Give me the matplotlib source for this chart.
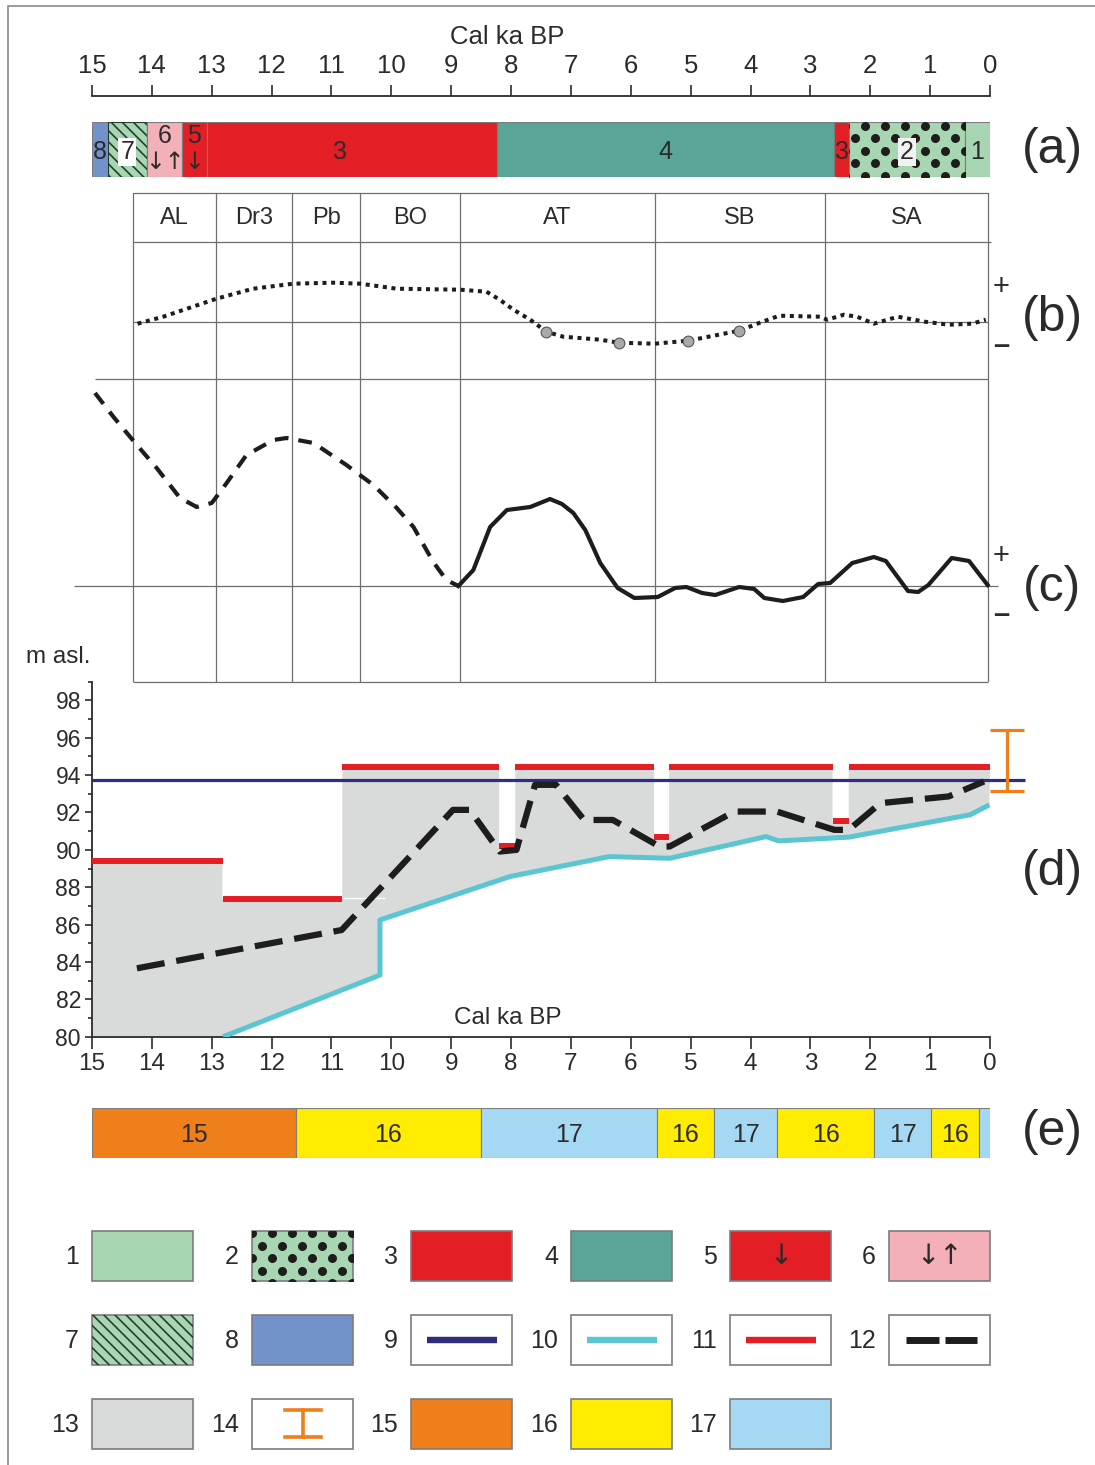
import matplotlib
matplotlib.use("Agg")
import matplotlib.pyplot as plt
from matplotlib.patches import Rectangle
import numpy as np

W, H = 1095, 1465
XL, XR = 92, 990          # pixel span of the 15 -> 0 ka time axes

plt.rcParams["font.family"] = ["Liberation Sans", "DejaVu Sans"]
plt.rcParams["hatch.linewidth"] = 1.2

TXT = "#2b2b2b"
GRID = "#6e6e6e"
EDGE = "#7d7d7d"
MEADOW = "#a8d5b2"
RED = "#e31e24"
TEAL = "#5aa595"
PINK = "#f4b0b8"
BLUE8 = "#7392c9"
NAVY = "#2e2d82"
CYAN = "#5bc5d2"
GREY = "#d9dada"
ORANGE = "#ee7f1b"
YELLOW = "#ffec00"
SKY = "#a4d8f3"
DARK = "#1d1d1b"
ARROWS = ["DejaVu Sans"]

unit_color = {1: MEADOW, 2: MEADOW, 3: RED, 4: TEAL, 5: RED, 6: PINK,
              7: MEADOW, 8: BLUE8, 13: GREY, 15: ORANGE, 16: YELLOW, 17: SKY}

# (a) sediment units along the time axis, oldest first
a_edges = [15.0, 14.74, 14.08, 13.50, 13.08, 8.24, 2.60, 2.35, 0.42, 0.0]
a_units = [8, 7, 6, 5, 3, 4, 3, 2, 1]

# chronozones and their limits (ka)
zone_edges = [14.32, 12.93, 11.66, 10.52, 8.85, 5.60, 2.76, 0.03]
zone_names = ["AL", "Dr3", "Pb", "BO", "AT", "SB", "SA"]

# (b) humidity curve, relative units
b_ka = [14.24, 13.81, 12.92, 12.31, 11.64, 10.97, 10.52, 9.91, 8.85, 8.41,
        8.19, 7.96, 7.68, 7.41, 7.13, 6.51, 6.20, 5.60, 5.04, 4.19, 3.80,
        3.52, 2.84, 2.72, 2.44, 2.22, 1.94, 1.54, 1.09, 0.69, 0.30, 0.07]
b_val = [-0.2, 0.5, 2.3, 3.3, 3.8, 3.9, 3.8, 3.3, 3.2, 3.0,
         2.2, 1.2, 0.2, -1.0, -1.5, -1.8, -2.1, -2.2, -1.9, -0.9, 0.0,
         0.6, 0.5, 0.2, 0.7, 0.5, -0.2, 0.5, 0.0, -0.3, -0.2, 0.2]
b_dot_ka = [7.41, 6.20, 5.04, 4.19]
b_dot_val = [-1.0, -2.1, -1.9, -0.9]

# (c) temperature curve, relative units: inferred part, then measured part
c_dash_ka = [14.95, 14.64, 14.25, 13.92, 13.53, 13.25, 13.00, 12.81, 12.42,
             11.97, 11.75, 11.30, 10.75, 10.30, 9.91, 9.63, 9.30, 9.08, 8.88]
c_dash_val = [19.3, 16.9, 14.1, 11.8, 8.8, 7.9, 8.3, 9.8, 13.1,
              14.6, 14.8, 14.3, 12.1, 10.1, 7.8, 5.9, 2.4, 0.6, 0.0]
c_solid_ka = [8.88, 8.63, 8.35, 8.07, 7.68, 7.35, 7.15, 6.96, 6.76, 6.51,
              6.22, 5.94, 5.55, 5.26, 5.07, 4.81, 4.59, 4.19, 3.94, 3.77,
              3.46, 3.12, 2.87, 2.67, 2.30, 1.94, 1.74, 1.37, 1.20, 1.03,
              0.64, 0.35, 0.04]
c_solid_val = [0.0, 1.6, 5.9, 7.6, 7.9, 8.7, 8.2, 7.3, 5.6, 2.3,
               -0.2, -1.2, -1.1, -0.2, -0.1, -0.7, -0.9, -0.1, -0.3, -1.2,
               -1.5, -1.1, 0.2, 0.3, 2.3, 2.9, 2.5, -0.5, -0.6, 0.1,
               2.8, 2.5, 0.1]

# (d) lake levels, m asl.
hs_from = [15.0, 12.82, 10.82, 8.20, 7.93, 5.61, 5.36, 2.63, 2.36]
hs_to = [12.82, 10.82, 8.20, 7.93, 5.61, 5.36, 2.63, 2.36, 0.0]
hs_level = [89.4, 87.36, 94.46, 90.23, 94.46, 90.68, 94.46, 91.52, 94.46]
lake_ka = [14.25, 10.83, 8.97, 8.69, 8.19, 7.91, 7.60, 7.25, 6.78, 6.30,
           5.52, 5.35, 4.27, 3.56, 2.60, 2.36, 1.83, 0.69, 0.10]
lake_m = [83.66, 85.71, 92.14, 92.14, 89.91, 90.0, 93.48, 93.48, 91.6, 91.6,
          90.18, 90.18, 92.05, 92.05, 91.07, 91.07, 92.5, 92.86, 93.66]
base_ka = [12.81, 10.19, 10.19, 8.02, 6.36, 5.35, 3.74, 3.53, 2.36, 0.33, 0.01]
base_m = [80.0, 83.3, 86.25, 88.57, 89.64, 89.55, 90.71, 90.48, 90.68, 91.88, 92.41]
threshold_m = 93.75
modern_ka = -0.29
modern_lo, modern_hi = 93.13, 96.43

# (e) climate phases
e_edges = [15.0, 11.6, 8.5, 5.57, 4.61, 3.55, 1.94, 0.98, 0.18, 0.0]
e_class = [15, 16, 17, 16, 17, 16, 17, 16, 17]

ticks = list(range(15, -1, -1))

fig = plt.figure(figsize=(W / 100, H / 100), dpi=100)


def px_axes(x0, y0, x1, y1):
    return fig.add_axes([x0 / W, 1 - y1 / H, (x1 - x0) / W, (y1 - y0) / H])


def dot_fill(ax, patch, x0, x1, y0, y1, dx, dy, size):
    pts = []
    for k, yy in enumerate(np.arange(y0, y1 + dy, dy)):
        shift = dx / 2 if k % 2 else 0.0
        for xx in np.arange(x0 - shift, x1 + dx, dx):
            pts.append((xx, yy))
    pts = np.array(pts)
    sc = ax.scatter(pts[:, 0], pts[:, 1], s=size, color=DARK, lw=0, zorder=3)
    sc.set_clip_path(patch)


# overlay in pixel units for frame, labels and the legend
ov = fig.add_axes([0, 0, 1, 1])
ov.set_xlim(0, W)
ov.set_ylim(H, 0)
ov.axis("off")
ov.plot([8, 8, W + 5], [H + 5, 6, 6], color="#8a8a8a", lw=1.2, clip_on=False)

# ---- time scale on top
ax_s = px_axes(XL, 96, XR, 97)
ax_s.set_xlim(15, 0)
ax_s.set_ylim(0, 1)
for side in ("left", "right", "bottom"):
    ax_s.spines[side].set_visible(False)
ax_s.spines["top"].set_color(TXT)
ax_s.spines["top"].set_linewidth(1.3)
ax_s.set_yticks([])
ax_s.set_xticks(ticks)
ax_s.tick_params(axis="x", top=True, bottom=False, labeltop=True, labelbottom=False,
                 direction="out", length=8, width=1.2, color=TXT,
                 labelsize=18.5, labelcolor=TXT, pad=5)
ax_s.patch.set_visible(False)
ov.text(507, 37, "Cal ka BP", ha="center", va="center", fontsize=18.5, color=TXT)

# ---- (a) units
ax_a = px_axes(XL, 122, XR, 177)
ax_a.set_xlim(15, 0)
ax_a.set_ylim(0, 1)
ax_a.axis("off")
older = np.array(a_edges[:-1])
younger = np.array(a_edges[1:])
bars = ax_a.barh(0.5, older - younger, left=younger, height=1,
                 color=[unit_color[u] for u in a_units], edgecolor=EDGE, linewidth=0.8)
for i, u in enumerate(a_units):
    mid = (older[i] + younger[i]) / 2
    if u == 7:
        bars[i].set_hatch("\\\\\\")
        bars[i].set_edgecolor("#24402c")
        ax_a.text(mid, 0.45, "7", ha="center", va="center", fontsize=18, color=TXT,
                  bbox=dict(fc="white", ec="none", pad=1.5), zorder=4)
    elif u == 2:
        dot_fill(ax_a, bars[i], younger[i], older[i], 0.02, 1.0, 0.334, 0.227, 42)
        ax_a.text(mid, 0.45, "2", ha="center", va="center", fontsize=18, color=TXT,
                  bbox=dict(fc="#f2f2f2", ec="none", pad=1.5), zorder=4)
    elif u in (5, 6):
        ax_a.text(mid, 0.75, str(u), ha="center", va="center", fontsize=18, color=TXT)
        ax_a.text(mid, 0.27, "↓" if u == 5 else "↓↑", ha="center", va="center",
                  fontsize=17, color=TXT, family=ARROWS)
    elif u == 3 and older[i] - younger[i] > 1:
        ax_a.text(mid + 0.2, 0.45, "3", ha="center", va="center", fontsize=18, color=TXT)
    else:
        ax_a.text(mid, 0.45, str(u), ha="center", va="center", fontsize=18, color=TXT)

# ---- chronozone header, (b) and (c)
ax_h = px_axes(XL, 193, XR, 242)
ax_b = px_axes(XL, 242, XR, 379)
ax_c = px_axes(XL, 379, XR, 682)
ax_h.set_ylim(0, 1)
ax_b.set_ylim(-5.73, 7.97)
ax_c.set_ylim(-9.6, 20.7)
for ax in (ax_h, ax_b, ax_c):
    ax.set_xlim(15, 0)
    ax.axis("off")
    for e in zone_edges:
        ax.axvline(e, color=GRID, lw=0.9)

ax_h.hlines(1, zone_edges[0], zone_edges[-1], color=GRID, lw=0.9, clip_on=False)
ax_h.hlines(0, zone_edges[0], -0.01, color=GRID, lw=0.9, clip_on=False)
for k, name in enumerate(zone_names):
    ax_h.text((zone_edges[k] + zone_edges[k + 1]) / 2, 0.5, name, ha="center",
              va="center", fontsize=17, color=TXT)

ax_b.hlines(0, zone_edges[0], zone_edges[-1], color=GRID, lw=0.9)
ax_b.plot(b_ka, b_val, color=DARK, lw=2.9, linestyle=(0, (1.0, 1.15)),
          dash_capstyle="butt", zorder=3)
ax_b.scatter(b_dot_ka, b_dot_val, s=60, color="#a9a9a9", edgecolor="#555555",
             lw=0.8, zorder=4)

ax_c.hlines(20.7, 14.95, zone_edges[-1], color=GRID, lw=0.9, clip_on=False)
ax_c.hlines(-9.6, zone_edges[0], zone_edges[-1], color=GRID, lw=0.9, clip_on=False)
ax_c.hlines(0, 15.3, -0.13, color=GRID, lw=0.9, clip_on=False)
ax_c.plot(c_dash_ka, c_dash_val, color=DARK, lw=3, linestyle=(0, (3.3, 2.4)),
          clip_on=False, zorder=3)
ax_c.plot(c_solid_ka, c_solid_val, color=DARK, lw=3, solid_joinstyle="round",
          clip_on=False, zorder=3)

# ---- (d) lake levels
ax_d = px_axes(XL, 681.7, XR, 1036.7)
ax_d.set_xlim(15, 0)
ax_d.set_ylim(80, 99.0)
ax_d.patch.set_visible(False)
for side in ("top", "right"):
    ax_d.spines[side].set_visible(False)
for side in ("left", "bottom"):
    ax_d.spines[side].set_color(TXT)
    ax_d.spines[side].set_linewidth(1.3)

top_x = np.ravel(np.column_stack([hs_from, hs_to]))
top_y = np.repeat(hs_level, 2)
poly_x = np.concatenate([top_x, base_ka[::-1], [15.0]])
poly_y = np.concatenate([top_y, base_m[::-1], [80.0]])
ax_d.fill(poly_x, poly_y, color=GREY, lw=0, zorder=1)
ax_d.hlines(87.4, 10.82, 10.1, color="white", lw=1.0, zorder=1.5)

ax_d.hlines(threshold_m, 15, -0.59, color=NAVY, lw=2.3, clip_on=False, zorder=2)
ax_d.plot(base_ka, base_m, color=CYAN, lw=3.6, zorder=3, solid_capstyle="butt")
ax_d.hlines(hs_level, hs_from, hs_to, color=RED, lw=4.3, zorder=3)
ax_d.plot(lake_ka, lake_m, color=DARK, lw=4.5, linestyle=(0, (4.5, 1.9)), zorder=4)

eb = ax_d.errorbar([modern_ka], [(modern_lo + modern_hi) / 2],
                   yerr=[[(modern_hi - modern_lo) / 2], [(modern_hi - modern_lo) / 2]],
                   fmt="none", ecolor=ORANGE, elinewidth=2.3, capsize=12.5, capthick=2.3)
for art in eb.get_children():
    art.set_clip_on(False)

ax_d.set_xticks(ticks)
ax_d.set_yticks(range(80, 99, 2))
ax_d.set_yticks(range(81, 100, 2), minor=True)
ax_d.tick_params(axis="y", which="major", direction="out", length=5, width=1.2,
                 color=TXT, labelsize=16.5, labelcolor=TXT, pad=3)
ax_d.tick_params(axis="y", which="minor", direction="out", length=3, width=1.2, color=TXT)
ax_d.tick_params(axis="x", direction="out", length=8.5, width=1.2, color=TXT,
                 labelsize=17.5, labelcolor=TXT, pad=3)

# ---- (e) climate phases
ax_e = px_axes(XL, 1108, XR, 1158)
ax_e.set_xlim(15, 0)
ax_e.set_ylim(0, 1)
ax_e.axis("off")
e_old = np.array(e_edges[:-1])
e_young = np.array(e_edges[1:])
ax_e.barh(0.5, e_old - e_young, left=e_young, height=1,
          color=[unit_color[c] for c in e_class], edgecolor=EDGE, linewidth=0.8)
for i, c in enumerate(e_class):
    if e_old[i] - e_young[i] > 0.3:
        ax_e.text((e_old[i] + e_young[i]) / 2, 0.47, str(c), ha="center", va="center",
                  fontsize=18, color=TXT)

# ---- panel letters and axis captions
for lab, yy in (("(a)", 150), ("(b)", 318), ("(c)", 588), ("(d)", 872), ("(e)", 1132)):
    ov.text(1052, yy, lab, ha="center", va="center", fontsize=36, color=TXT)
for sign, yy in (("+", 287), ("–", 346), ("+", 556), ("–", 615)):
    ov.text(1001, yy, sign, ha="center", va="center", fontsize=21, color=TXT,
            fontweight="bold" if sign == "–" else "normal")
ov.text(26, 657, "m asl.", ha="left", va="center", fontsize=17.5, color=TXT)
ov.text(508, 1018, "Cal ka BP", ha="center", va="center", fontsize=17.5, color=TXT)

# ---- legend
col_x = [92, 252, 411, 571, 730, 889]
row_y = [1231, 1315, 1399]
bw, bh = 101, 50
for n in range(1, 18):
    r, c = divmod(n - 1, 6)
    x0, y0 = col_x[c], row_y[r]
    xm, ym = x0 + bw / 2, y0 + bh / 2
    fc = unit_color.get(n, "white")
    box = Rectangle((x0, y0), bw, bh, facecolor=fc, edgecolor=EDGE, lw=1.2, zorder=2)
    ov.add_patch(box)
    ov.text(x0 - 13, ym + 1, str(n), ha="right", va="center", fontsize=18, color=TXT)
    if n == 2:
        dot_fill(ov, box, x0, x0 + bw, y0 + 2, y0 + bh, 20, 12.5, 42)
    elif n == 5:
        ov.text(xm, ym, "↓", ha="center", va="center", fontsize=20, color=TXT,
                family=ARROWS, zorder=3)
    elif n == 6:
        ov.text(xm, ym, "↓↑", ha="center", va="center", fontsize=20, color=TXT,
                family=ARROWS, zorder=3)
    elif n == 7:
        ov.add_patch(Rectangle((x0, y0), bw, bh, facecolor="none", edgecolor="#24402c",
                               hatch="\\\\\\", lw=0, zorder=3))
    elif n in (9, 10, 11):
        col = {9: NAVY, 10: CYAN, 11: RED}[n]
        ov.plot([x0 + 16, x0 + 86], [ym, ym], color=col, lw=4.6,
                solid_capstyle="butt", zorder=3)
    elif n == 12:
        ov.plot([x0 + 17, x0 + 50], [ym, ym], color=DARK, lw=5, solid_capstyle="butt", zorder=3)
        ov.plot([x0 + 56, x0 + 88], [ym, ym], color=DARK, lw=5, solid_capstyle="butt", zorder=3)
    elif n == 14:
        ov.plot([xm - 18, xm + 18], [y0 + 11, y0 + 11], color=ORANGE, lw=2.6, zorder=3)
        ov.plot([xm - 18, xm + 18], [y0 + 38, y0 + 38], color=ORANGE, lw=2.6, zorder=3)
        ov.plot([xm, xm], [y0 + 11, y0 + 38], color=ORANGE, lw=2.6, zorder=3)

fig.savefig("out.png", dpi=100)
